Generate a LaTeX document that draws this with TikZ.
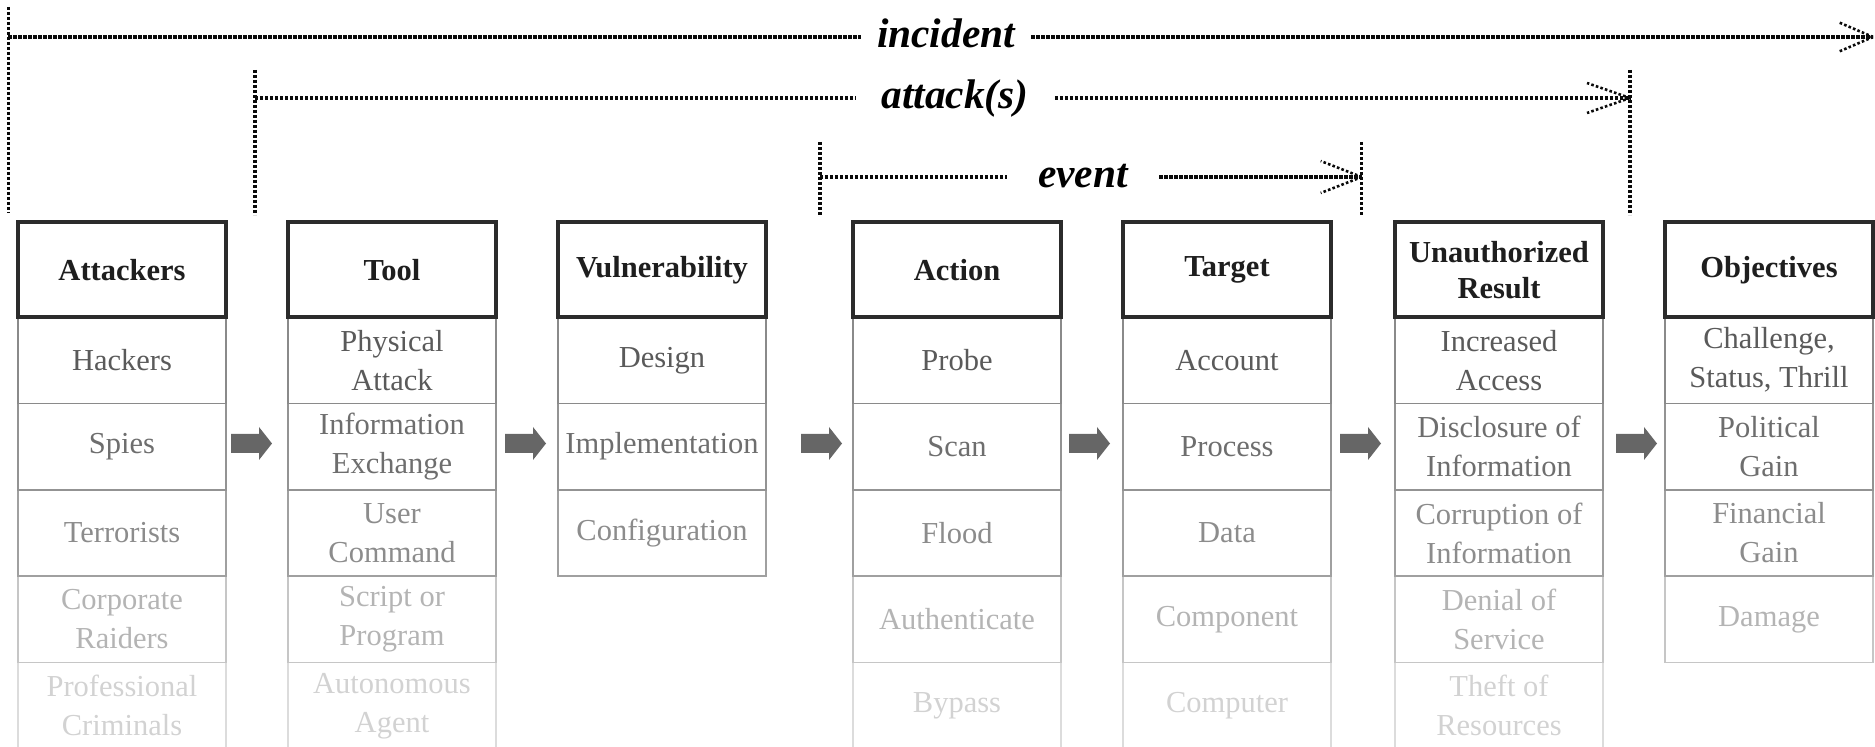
\documentclass[tikz,border=0pt]{standalone}
\usepackage{fontspec}
\setmainfont{Liberation Serif}
\newcommand\cellfont{\fontsize{15.25}{19.5}\selectfont}
\newcommand\hdrfont{\fontsize{15.25}{18}\selectfont\bfseries}
\newcommand\lblfont{\fontsize{20.7}{24}\selectfont\bfseries\itshape}
% one cell of a column: #1 column name, #2 left edge, #3 row, #4 text
\newcommand\TaxCell[4]{\node[cell, r#3] (#1-#3) at ({#2+104},{317+86.4*(#3-0.5)}) {#4};}
\newcommand\TaxHead[3]{\node[hdr] (#1-h) at ({#2+104},269.75) {#3};}
\newcommand\BlockArrow[1]{\fill[blockarr, shift={(#1,0)}] (0,434) -- (28,434) -- (28,427) -- (41,443.5) -- (28,460) -- (28,453) -- (0,453) -- cycle;}
\definecolor{hdrline}{HTML}{2B2B2B}
\definecolor{hdrtext}{HTML}{1E1E1E}
\definecolor{txtA}{HTML}{5A5A5A}
\definecolor{txtB}{HTML}{6E6E6E}
\definecolor{txtC}{HTML}{8C8C8C}
\definecolor{txtD}{HTML}{B4B4B4}
\definecolor{txtE}{HTML}{D2D2D2}
\definecolor{lineA}{HTML}{8A8A8A}
\definecolor{lineB}{HTML}{939393}
\definecolor{lineC}{HTML}{A0A0A0}
\definecolor{lineD}{HTML}{C6C6C6}
\definecolor{lineE}{HTML}{DCDCDC}
\definecolor{arrowgray}{HTML}{666666}
\definecolor{dimink}{HTML}{0A0A0A}
\begin{document}
\begin{tikzpicture}[x=0.5pt,y=-0.5pt,
  cell/.style={line width=0.75pt, minimum width=104pt, minimum height=43.2pt,
    inner sep=0pt, align=center, font=\cellfont},
  r1/.style={draw=lineA, text=txtA},
  r2/.style={draw=lineB, text=txtB},
  r3/.style={draw=lineC, text=txtC},
  r4/.style={draw=lineD, text=txtD},
  r5/.style={draw=lineE, text=txtE},
  hdr/.style={draw=hdrline, line width=2pt, fill=white, minimum width=104pt,
    minimum height=47.25pt, inner sep=0pt, align=center, font=\hdrfont, text=hdrtext},
  blockarr/.style={fill=arrowgray},
  dimline/.style={draw=dimink, line width=1.7pt, dash pattern=on 1.7pt off 0.8pt},
  wing/.style={draw=dimink, line width=1.3pt, dash pattern=on 1.3pt off 1.1pt},
  lbl/.style={font=\lblfont, text=black, text height=11pt, text depth=0pt, inner ysep=0pt}]
\useasboundingbox (0,0) rectangle (1875,747);
\clip (0,0) rectangle (1875,747);

% ---- columns: lighter rows first so darker borders stay on top ----
\TaxCell{att}{18}{5}{Professional\\Criminals}
\TaxCell{att}{18}{4}{Corporate\\Raiders}
\TaxCell{att}{18}{3}{Terrorists}
\TaxCell{att}{18}{2}{Spies}
\TaxCell{att}{18}{1}{Hackers}

\TaxCell{tool}{288}{5}{Autonomous\\Agent}
\TaxCell{tool}{288}{4}{Script or\\Program}
\TaxCell{tool}{288}{3}{User\\Command}
\TaxCell{tool}{288}{2}{Information\\Exchange}
\TaxCell{tool}{288}{1}{Physical\\Attack}

\TaxCell{vul}{558}{3}{Configuration}
\TaxCell{vul}{558}{2}{Implementation}
\TaxCell{vul}{558}{1}{Design}

\TaxCell{act}{853}{5}{Bypass}
\TaxCell{act}{853}{4}{Authenticate}
\TaxCell{act}{853}{3}{Flood}
\TaxCell{act}{853}{2}{Scan}
\TaxCell{act}{853}{1}{Probe}

\TaxCell{tgt}{1123}{5}{Computer}
\TaxCell{tgt}{1123}{4}{Component}
\TaxCell{tgt}{1123}{3}{Data}
\TaxCell{tgt}{1123}{2}{Process}
\TaxCell{tgt}{1123}{1}{Account}

\TaxCell{res}{1395}{5}{Theft of\\Resources}
\TaxCell{res}{1395}{4}{Denial of\\Service}
\TaxCell{res}{1395}{3}{Corruption of\\Information}
\TaxCell{res}{1395}{2}{Disclosure of\\Information}
\TaxCell{res}{1395}{1}{Increased\\Access}

\TaxCell{obj}{1665}{4}{Damage}
\TaxCell{obj}{1665}{3}{Financial\\Gain}
\TaxCell{obj}{1665}{2}{Political\\Gain}
\TaxCell{obj}{1665}{1}{Challenge,\\Status, Thrill}

% ---- column headers ----
\TaxHead{att}{18}{Attackers}
\TaxHead{tool}{288}{Tool}
\TaxHead{vul}{558}{Vulnerability}
\TaxHead{act}{853}{Action}
\TaxHead{tgt}{1123}{Target}
\TaxHead{res}{1395}{Unauthorized\\Result}
\TaxHead{obj}{1665}{Objectives}

% ---- block arrows between columns ----
\BlockArrow{231}
\BlockArrow{505}
\BlockArrow{801}
\BlockArrow{1069}
\BlockArrow{1340}
\BlockArrow{1616}

% ---- incident span ----
\coordinate (incTop) at (8.3,7);
\coordinate (incBot) at (8.3,213);
\coordinate (incL) at (8.3,37);
\coordinate (incR) at (1873,37);
\node[lbl, inner xsep=8pt] (incident) at (946,37) {incident};
\draw[dimline] (incTop) -- (incBot);
\draw[dimline] (incL) -- (incident.west);
\draw[dimline] (incident.east) -- (incR);
\draw[wing] (incR) -- ++(-35,-15);
\draw[wing] (incR) -- ++(-35,15);

% ---- attack(s) span ----
\coordinate (atkTopL) at (255,70);
\coordinate (atkBotL) at (255,215);
\coordinate (atkTopR) at (1630,70);
\coordinate (atkBotR) at (1630,215);
\coordinate (atkL) at (255,98);
\coordinate (atkR) at (1630,98);
\node[lbl, inner xsep=13pt] (attack) at (955,98) {attack(s)};
\draw[dimline] (atkTopL) -- (atkBotL);
\draw[dimline] (atkTopR) -- (atkBotR);
\draw[dimline] (atkL) -- (attack.west);
\draw[dimline] (attack.east) -- (atkR);
\draw[wing] (atkR) -- ++(-43,-15);
\draw[wing] (atkR) -- ++(-43,15);

% ---- event span ----
\coordinate (evtTopL) at (820,142);
\coordinate (evtBotL) at (820,215);
\coordinate (evtTopR) at (1361.7,142);
\coordinate (evtBotR) at (1361.7,215);
\coordinate (evtL) at (820,177);
\coordinate (evtR) at (1361.7,177);
\node[lbl, inner xsep=15.5pt] (event) at (1083,177) {event};
\draw[dimline] (evtTopL) -- (evtBotL);
\draw[dimline] (evtTopR) -- (evtBotR);
\draw[dimline] (evtL) -- (event.west);
\draw[dimline] (event.east) -- (evtR);
\draw[wing] (evtR) -- ++(-41,-16);
\draw[wing] (evtR) -- ++(-41,16);
\end{tikzpicture}
\end{document}
